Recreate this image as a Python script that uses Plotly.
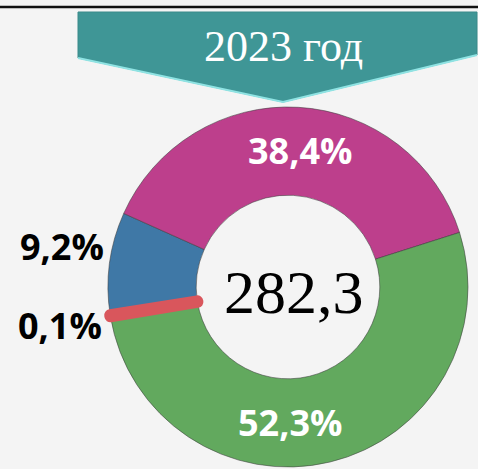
import plotly.graph_objects as go

# ---- data ----
labels = ["Синий", "Розовый", "Зелёный", "Красный"]
values = [9.2, 38.4, 52.3, 0.1]
colors = ["#3f78a6", "#bd3f8c", "#62a95e", "#d9565c"]
total_value = "282,3"
title_text = "2023 год"

W, H = 478, 469


def px(x):
    return x / W


def py(y):
    return 1 - y / H


def fmt(v):
    return f"{v:.1f}".replace(".", ",") + "%"


line_colors = ["rgba(60,60,60,0.55)"] * 3 + [colors[3]]
line_widths = [1, 1, 1, 12]

fig = go.Figure(
    go.Pie(
        labels=labels,
        values=values,
        hole=0.51,
        sort=False,
        direction="clockwise",
        rotation=261,
        marker=dict(colors=colors, line=dict(color=line_colors, width=line_widths)),
        textinfo="none",
        hoverinfo="label+percent",
        showlegend=False,
        domain=dict(x=[px(108), px(468)], y=[py(467), py(107)]),
    )
)

# banner (arrow pointing down)
banner = (
    f"M {px(78)},{py(12)} L {px(477)},{py(12)} L {px(477)},{py(55)} "
    f"L {px(283)},{py(102)} L {px(78)},{py(58)} Z"
)
shapes = [
    dict(type="line", xref="paper", yref="paper", x0=0, x1=1, y0=py(7), y1=py(7),
         line=dict(color="#111111", width=2.5)),
    dict(type="path", xref="paper", yref="paper", path=banner,
         fillcolor="#3f9696", line=dict(color="#3a8a8a", width=1)),
    dict(type="path", xref="paper", yref="paper",
         path=f"M {px(78)},{py(58)} L {px(283)},{py(102)} L {px(477)},{py(55)}",
         line=dict(color="#8fe3e3", width=2)),
]

pct_font = dict(family="Open Sans, sans-serif", size=36)
annotations = [
    dict(text=title_text, x=px(283), y=py(47), xref="paper", yref="paper",
         showarrow=False, xanchor="center", yanchor="middle",
         font=dict(family="Liberation Serif, serif", size=44, color="white")),
    dict(text=total_value, x=px(294), y=py(292), xref="paper", yref="paper",
         showarrow=False, xanchor="center", yanchor="middle",
         font=dict(family="Liberation Serif, serif", size=62, color="black")),
    dict(text=f"<b>{fmt(values[1])}</b>", x=px(300), y=py(150), xref="paper", yref="paper",
         showarrow=False, xanchor="center", yanchor="middle",
         font=dict(pct_font, color="white")),
    dict(text=f"<b>{fmt(values[2])}</b>", x=px(290), y=py(422), xref="paper", yref="paper",
         showarrow=False, xanchor="center", yanchor="middle",
         font=dict(pct_font, color="white")),
    dict(text=f"<b>{fmt(values[0])}</b>", x=px(62), y=py(246), xref="paper", yref="paper",
         showarrow=False, xanchor="center", yanchor="middle",
         font=dict(pct_font, color="black")),
    dict(text=f"<b>{fmt(values[3])}</b>", x=px(60), y=py(325), xref="paper", yref="paper",
         showarrow=False, xanchor="center", yanchor="middle",
         font=dict(pct_font, color="black")),
]

fig.update_layout(
    width=W,
    height=H,
    margin=dict(l=0, r=0, t=0, b=0),
    paper_bgcolor="#f4f4f4",
    plot_bgcolor="#f4f4f4",
    shapes=shapes,
    annotations=annotations,
)

fig.write_html(
    "out.html",
    config={"displayModeBar": False},
    post_script="document.body.style.margin='0';document.body.style.overflow='hidden';",
)
